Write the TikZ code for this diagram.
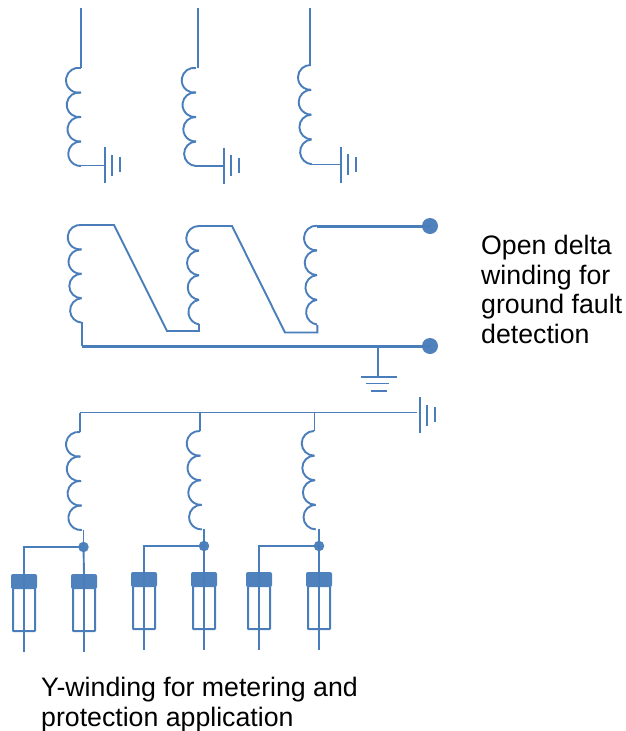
\documentclass[tikz,border=0pt]{standalone}
\usepackage{fontspec}
\setmainfont{Liberation Sans}
\definecolor{wire}{HTML}{4A7EBB}
\definecolor{capfill}{HTML}{4F81BD}
\tikzset{
  wireline/.style={draw=wire,line width=1.9pt},
  heavyline/.style={draw=wire,line width=3pt},
  dotbig/.style={circle,fill=capfill,draw=none,minimum size=16pt,inner sep=0pt},
  dotsmall/.style={circle,fill=capfill,draw=none,minimum size=10.5pt,inner sep=0pt},
  caption/.style={anchor=north west,align=left,inner sep=0pt,font=\fontsize{26.7}{29.6}\selectfont,text=black},
  fusebody/.style={draw=wire,line width=2pt,rounded corners=0.5pt},
  fusecap/.style={fill=capfill,draw=none,rounded corners=2pt},
}
% coil: X (right ends), drift of X per loop, L (left bulge), drift of L per loop, top y, pitch
\newcommand{\coilfour}[6]{%
  \foreach \k in {0,1,2,3}{
    \pgfmathsetmacro{\xs}{#1+\k*#2}
    \pgfmathsetmacro{\ys}{#5+\k*#6}
    \pgfmathsetmacro{\bb}{\xs-(#3+\k*#4)}
    \pgfmathsetmacro{\rr}{(\bb*\bb+#6*#6/4)/(2*\bb)}
    \pgfmathsetmacro{\th}{atan2(#6/2,\bb-\rr)}
    \draw[wireline] (\xs,\ys) arc[start angle=\th,end angle={360-\th},radius=\rr pt];
  }}
% stacked-bar earth drawn vertically: x of long bar, y centre
\newcommand{\earthside}[2]{%
  \draw[wireline] (#1,{#2-18}) -- (#1,{#2+18});
  \draw[wireline] ({#1+7},{#2-10.5}) -- ({#1+7},{#2+10.5});
  \draw[wireline] ({#1+15},{#2-8}) -- ({#1+15},{#2+7});}
% fuse: x centre, top y, bottom tail y
\newcommand{\fusepart}[3]{%
  \draw[fusebody] ({#1-11},{#2+8}) rectangle ({#1+11},{#2+57});
  \fill[fusecap] ({#1-13},#2) rectangle ({#1+13},{#2+15});
  \draw[wireline] (#1,{#2-4}) -- (#1,#3);}
\begin{document}
\begin{tikzpicture}[x=1pt,y=-1pt]
\useasboundingbox (0,0) rectangle (625,731);
% top row
\draw[wireline] (81,8) -- (81,68);
\coilfour{81}{0}{66}{0.75}{68}{24.5}
\draw[wireline] (81,165.5) -- (105,165.5);
\earthside{105}{165}
\draw[wireline] (198,8) -- (198,68);
\coilfour{196}{0}{181.7}{0.8}{68}{24.5}
\draw[wireline] (196,166) -- (224,166);
\earthside{224}{165.5}
\draw[wireline] (310,8) -- (310,65);
\coilfour{311}{0.2}{298}{0.7}{65}{24.8}
\draw[wireline] (311,164.5) -- (341,164.5);
\earthside{341}{164.5}
% open delta
\coordinate (d1) at (81,225);
\coordinate (d2) at (199,226);
\coordinate (d3) at (317,226);
\node[dotbig] (termA) at (430,226) {};
\node[dotbig] (termB) at (430,346) {};
\coordinate (busL) at (82,346);
\coordinate (earthTap) at (378,346);
\coilfour{81.5}{0}{67.7}{0.8}{225}{24.4}
\coilfour{199}{0}{186.3}{0.7}{226}{24.6}
\coilfour{317}{0}{304}{0.7}{225.7}{24.7}
\draw[wireline] (d1) -- (114,225) -- (167,331) -- (199,331) -- (199,324);
\draw[wireline] (d2) -- (232,226) -- (285,332.5) -- (317.3,332.5) -- (317.3,325);
\draw[heavyline] (d3) -- (termA.center);
\draw[wireline] (82,322) -- (busL);
\draw[heavyline] (busL) -- (termB.center);
\draw[wireline] (earthTap) -- (378,377);
\draw[wireline] (361,377) -- (397,377);
\draw[wireline] (366,383.5) -- (389,383.5);
\draw[wireline] (371,391) -- (387,391);
% Y winding
\node[dotsmall] (j1) at (83.5,547) {};
\node[dotsmall] (j2) at (204,546) {};
\node[dotsmall] (j3) at (319,546) {};
\draw[wireline] (80,412.5) -- (417,412.5);
\earthside{420}{415}
\draw[wireline] (80,412.5) -- (80,432);
\draw[wireline] (200,412.5) -- (200,431);
\draw[wireline] (314.5,412.5) -- (314.5,431);
\coilfour{80}{0.6}{66}{0.8}{432}{24.5}
\coilfour{200}{0.6}{186.7}{0.8}{431}{24.6}
\coilfour{314}{0.6}{301.7}{0.6}{431}{24.6}
\draw[wireline] (83.5,530) -- (j1.center) -| (24,574);
\draw[wireline] (204,529) -- (j2.center) -| (144,572);
\draw[wireline] (319,529) -- (j3.center) -| (259,572);
\draw[wireline] (j1.center) -- (84,574);
\draw[wireline] (j2.center) -- (204,572);
\draw[wireline] (j3.center) -- (319,572);
\fusepart{24}{574}{652}
\fusepart{84}{574}{652}
\fusepart{144}{572}{650}
\fusepart{204}{572}{650}
\fusepart{259}{572}{650}
\fusepart{319}{572}{650}
% captions
\node[caption] (cap1) at (481,235) {Open delta\\winding for\\ground fault\\detection};
\node[caption] (cap2) at (41,677) {Y-winding for metering and\\protection application};
\end{tikzpicture}
\end{document}
